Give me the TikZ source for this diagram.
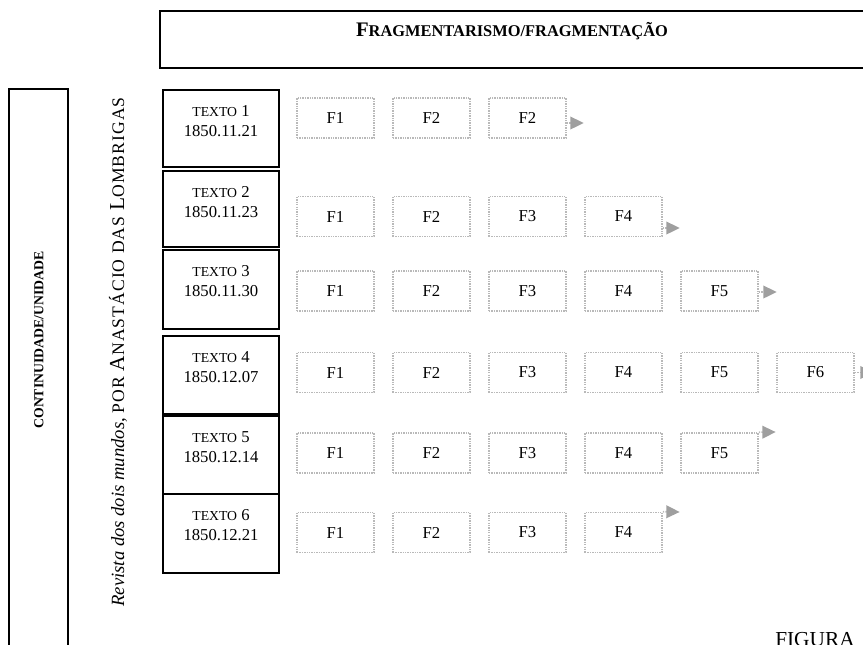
\documentclass[tikz,border=0pt]{standalone}
\usepackage{fontspec}
\setmainfont{Liberation Serif}
\usetikzlibrary{arrows.meta}
\newcommand{\smcp}[1]{{\fontsize{10.3}{12}\selectfont #1}}
\newcommand{\capsrev}[1]{{\fontsize{13.2}{14}\selectfont #1}}
\begin{document}
\begin{tikzpicture}[x=0.75pt, y=-0.75pt,
    font=\fontsize{12.5}{15}\selectfont,
    textbox/.style={draw, line width=1.5pt, minimum width=87pt, inner sep=0pt},
    boxlabel/.style={anchor=north, inner sep=0pt, yshift=-12pt, align=center},
    frag/.style={draw=gray!55, line width=1.2pt, dash pattern=on 1pt off 0.8pt,
      minimum width=57.75pt, minimum height=30pt, inner sep=0pt},
    cont/.style={draw=gray!55, line width=1.2pt, dash pattern=on 1pt off 1pt,
      -{Triangle[length=10pt, width=9.5pt, color=gray!75, fill=gray!75, sep=1pt]}}]
    \useasboundingbox (0,0) rectangle (863,644);
    % Top heading and left frame
    \draw[line width=1.5pt] (870,11) -- (160,11) -- (160,68) -- (870,68);
    \node[font=\bfseries\fontsize{15.5}{17}\selectfont] (frag) at (512,31)
      {F{\fontsize{12.3}{14}\selectfont RAGMENTARISMO/FRAGMENTAÇÃO}};
    \draw[line width=1.5pt] (9,650) -- (9,89) -- (68,89) -- (68,650);
    \node[rotate=90, font=\bfseries\fontsize{10.3}{12}\selectfont] (cont) at (39,340)
      {CONTINUIDADE/UNIDADE};
    \node[rotate=90, font=\fontsize{14}{16}\selectfont] (rev) at (118,352)
      {\textit{Revista dos dois mundos}, {\addfontfeature{LetterSpace=6}\capsrev{POR} {\fontsize{16}{17}\selectfont A}\capsrev{NASTÁCIO DAS} {\fontsize{16}{17}\selectfont L}\capsrev{OMBRIGAS}}};
    % Texts (left column)
    \node[textbox, minimum height=57.75pt] (t1) at (221,128.5) {};
    \node[textbox, minimum height=57pt]    (t2) at (221,209)   {};
    \node[textbox, minimum height=59.25pt] (t3) at (221,289.5) {};
    \node[textbox, minimum height=58.5pt]  (t4) at (221,375)   {};
    \node[textbox, minimum height=58.5pt]  (t5) at (221,455)   {};
    \node[textbox, minimum height=59.25pt] (t6) at (221,533.5) {};
    \node[boxlabel] (t1l) at (t1.north) {\smcp{TEXTO} 1\\1850.11.21};
    \node[boxlabel] (t2l) at (t2.north) {\smcp{TEXTO} 2\\1850.11.23};
    \node[boxlabel] (t3l) at (t3.north) {\smcp{TEXTO} 3\\1850.11.30};
    \node[boxlabel] (t4l) at (t4.north) {\smcp{TEXTO} 4\\1850.12.07};
    \node[boxlabel] (t5l) at (t5.north) {\smcp{TEXTO} 5\\1850.12.14};
    \node[boxlabel] (t6l) at (t6.north) {\smcp{TEXTO} 6\\1850.12.21};
    % Fragments of text 1
    \node[frag] (r1c1) at (335.5,118) {F1};
    \node[frag] (r1c2) at (431.5,118) {F2};
    \node[frag] (r1c3) at (527.5,118) {F2};
    % Fragments of text 2
    \node[frag] (r2c1) at (335.5,216.5) {F1};
    \node[frag] (r2c2) at (431.5,216.5) {F2};
    \node[frag] (r2c3) at (527.5,216.5) {F3};
    \node[frag] (r2c4) at (623.5,216.5) {F4};
    % Fragments of text 3
    \node[frag] (r3c1) at (335.5,291) {F1};
    \node[frag] (r3c2) at (431.5,291) {F2};
    \node[frag] (r3c3) at (527.5,291) {F3};
    \node[frag] (r3c4) at (623.5,291) {F4};
    \node[frag] (r3c5) at (719.5,291) {F5};
    % Fragments of text 4
    \node[frag] (r4c1) at (335.5,372.5) {F1};
    \node[frag] (r4c2) at (431.5,372.5) {F2};
    \node[frag] (r4c3) at (527.5,372.5) {F3};
    \node[frag] (r4c4) at (623.5,372.5) {F4};
    \node[frag] (r4c5) at (719.5,372.5) {F5};
    \node[frag] (r4c6) at (815.5,372.5) {F6};
    % Fragments of text 5
    \node[frag] (r5c1) at (335.5,453) {F1};
    \node[frag] (r5c2) at (431.5,453) {F2};
    \node[frag] (r5c3) at (527.5,453) {F3};
    \node[frag] (r5c4) at (623.5,453) {F4};
    \node[frag] (r5c5) at (719.5,453) {F5};
    % Fragments of text 6
    \node[frag] (r6c1) at (335.5,532.5) {F1};
    \node[frag] (r6c2) at (431.5,532.5) {F2};
    \node[frag] (r6c3) at (527.5,532.5) {F3};
    \node[frag] (r6c4) at (623.5,532.5) {F4};
    % Continuation arrows
    \coordinate (a1) at (585,123);
    \coordinate (a2) at (681,228);
    \coordinate (a3) at (778,292);
    \coordinate (a4) at (875,372.5);
    \coordinate (a5) at (777,432);
    \coordinate (a6) at (681,512);
    \draw[cont] (r1c3.east |- a1) -- (a1);
    \draw[cont] (r2c4.east |- a2) -- (a2);
    \draw[cont] (r3c5.east |- a3) -- (a3);
    \draw[cont] (r4c6.east) -- (a4);
    \draw[cont] (r5c5.north east) -- (a5);
    \draw[cont] (r6c4.north east) -- (a6);
    % Caption (cut off)
    \node[anchor=base west, inner sep=0pt, font=\fontsize{16}{18}\selectfont] (fig) at (775,646) {FIGURA};
  \end{tikzpicture}
\end{document}
